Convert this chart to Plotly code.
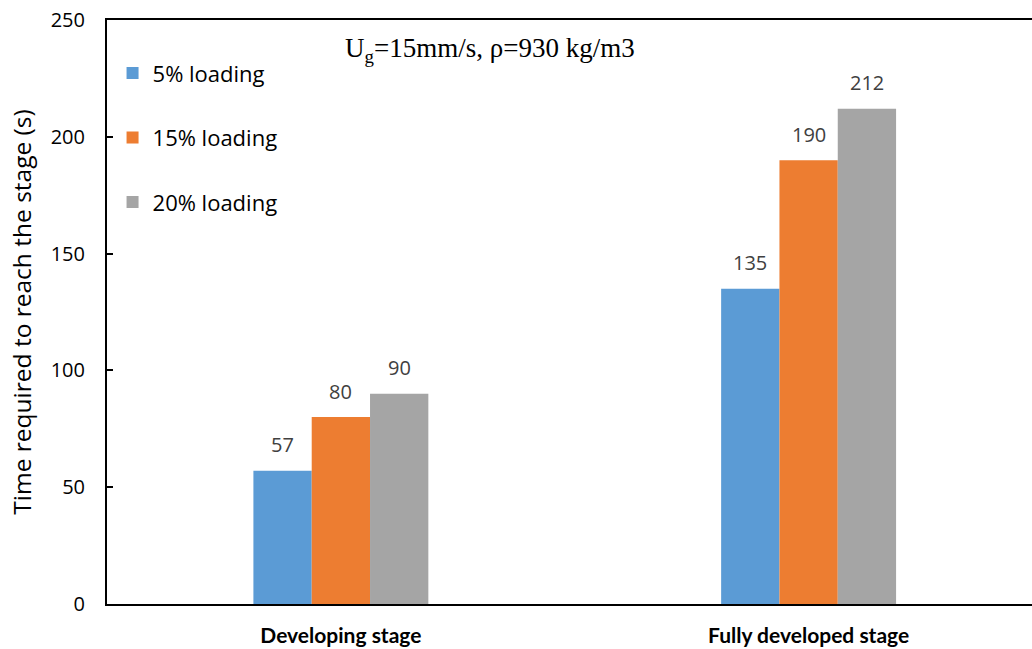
import plotly.graph_objects as go

stages = ["Developing stage", "Fully developed stage"]
series_names = ["5% loading", "15% loading", "20% loading"]
series_values = [
    [57, 135],
    [80, 190],
    [90, 212],
]
series_colors = ["#5B9BD5", "#ED7D31", "#A5A5A5"]
y_ticks = [0, 50, 100, 150, 200, 250]

# pixel width of one bar inside a group, used to place value labels
BAR_PX = 58.5

fig = go.Figure()
labels = []
n = len(series_names)
for i, (name, vals, col) in enumerate(zip(series_names, series_values, series_colors)):
    fig.add_trace(go.Bar(
        x=stages, y=vals, name=name, legendgroup=name,
        marker=dict(color=col, line=dict(width=0)),
    ))
    for stage, v in zip(stages, vals):
        labels.append(dict(
            x=stage, y=v, xref="x", yref="y", text=str(v), showarrow=False,
            xanchor="center", yanchor="middle",
            xshift=(i - (n - 1) / 2) * BAR_PX, yshift=26,
            font=dict(family="Open Sans", size=20, color="#404040"),
        ))

labels.append(dict(
    text="U<sub>g</sub>=15mm/s, ρ=930 kg/m3",
    x=0.414, y=0.948, xref="paper", yref="paper",
    xanchor="center", yanchor="middle", showarrow=False,
    font=dict(family="Liberation Serif", size=27, color="black"),
))

fig.update_layout(
    width=1032, height=649,
    margin=dict(l=107, r=0, t=20, b=45),
    paper_bgcolor="white", plot_bgcolor="white",
    barmode="group", bargap=0.626, bargroupgap=0,
    showlegend=True,
    legend=dict(
        x=0.006, y=0.945, xanchor="left", yanchor="top",
        font=dict(family="Open Sans", size=22, color="#000000"),
        tracegroupgap=33, itemwidth=30, bgcolor="rgba(0,0,0,0)",
    ),
    xaxis=dict(
        type="category", range=[-0.5, 1.4776],
        showline=True, linecolor="black", linewidth=2, mirror=True,
        ticks="", showgrid=False,
        tickfont=dict(family="Lato", size=21, color="black", weight="bold"),
        ticklabelstandoff=12,
    ),
    yaxis=dict(
        range=[0, 250], tickvals=y_ticks,
        showline=True, linecolor="black", linewidth=2,
        ticks="inside", ticklen=6, tickwidth=2, tickcolor="black",
        showgrid=False, zeroline=False,
        tickfont=dict(family="Open Sans", size=20, color="black"),
        ticklabelstandoff=16,
        title=dict(text="Time required to reach the stage (s)",
                   font=dict(family="Open Sans", size=24.5, color="black"), standoff=12),
    ),
    annotations=labels,
)

fig.write_html("out.html")
